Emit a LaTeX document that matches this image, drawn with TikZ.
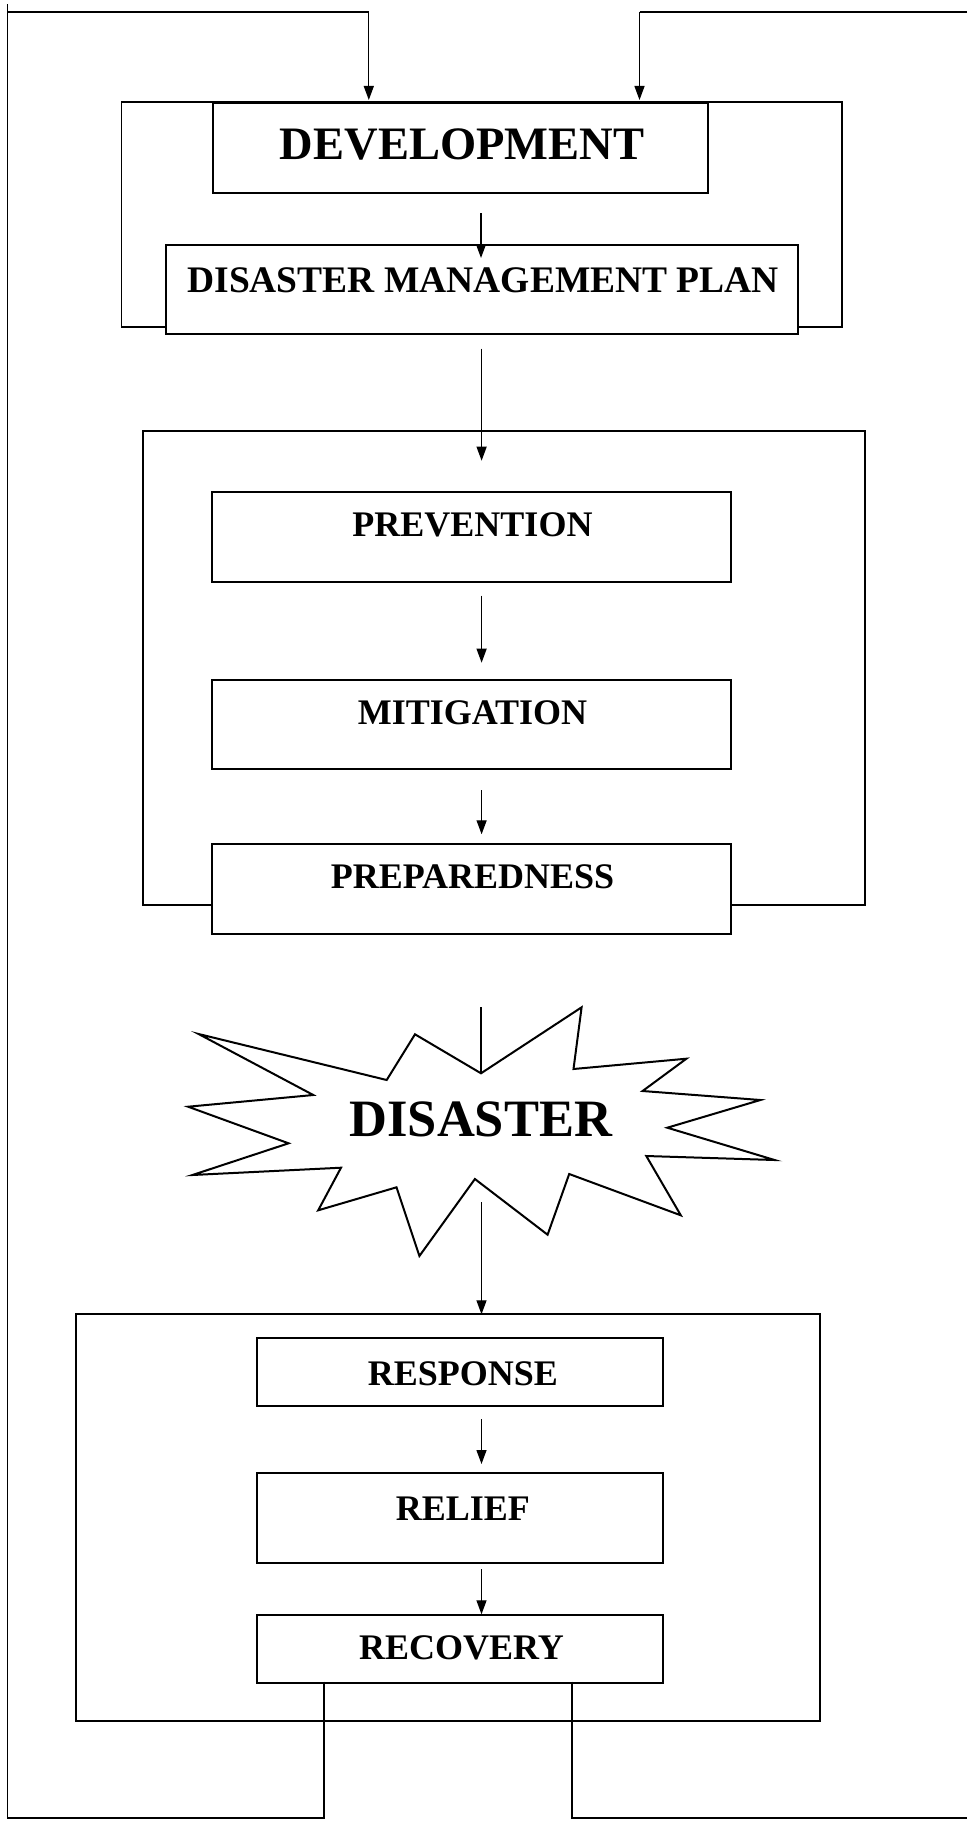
\documentclass[tikz,border=0pt]{standalone}
\usepackage{fontspec}
\setmainfont{Liberation Serif}
\usetikzlibrary{arrows.meta}
\begin{document}
\begin{tikzpicture}[x=1pt,y=-1pt,
  frame/.style={draw, line width=1.9pt},
  boxnode/.style={draw, line width=2pt, anchor=north west, inner sep=0pt, fill=white},
  lbl/.style={inner sep=0pt, font=\bfseries\fontsize{36}{40}\selectfont},
  arr/.style={draw, line width=1.3pt, -{Triangle[length=14pt,width=10pt]}},
  conn/.style={draw, line width=1.3pt},
  loopline/.style={draw, line width=1.9pt},
]
\useasboundingbox (0,0) rectangle (967,1822);

% group frames
\draw[frame] (165.3,327.3) -- (121.5,327.3) -- (121.5,101.7) -- (842.4,101.7) -- (842.4,327.3) -- (797.4,327.3);
\draw[frame] (211.2,905) -- (143.4,905) -- (143.4,431) -- (865.3,431) -- (865.3,905) -- (730.1,905);
\draw[frame] (75.6,1314.3) rectangle (820.3,1720.7);

% boxes
\node[boxnode, minimum width=495.9pt, minimum height=90pt] (dev) at (211.5,101.7) {};
\node[boxnode, minimum width=632.1pt, minimum height=89.3pt] (dmp) at (165.3,244) {};
\node[boxnode, minimum width=518.9pt, minimum height=89.7pt] (prev) at (211.2,491) {};
\node[boxnode, minimum width=518.9pt, minimum height=89.3pt] (miti) at (211.2,679) {};
\node[boxnode, minimum width=518.9pt, minimum height=90.3pt] (prep) at (211.2,843) {};
\node[boxnode, minimum width=405.9pt, minimum height=68pt] (resp) at (256,1337) {};
\node[boxnode, minimum width=405.9pt, minimum height=90pt] (reli) at (256,1471.7) {};
\node[boxnode, minimum width=405.7pt, minimum height=67.4pt] (reco) at (256,1614.3) {};

% labels
\node[inner sep=0pt, font=\bfseries\fontsize{46.5}{50}\selectfont] (devt) at (462,144.7) {DEVELOPMENT};
\node[inner sep=0pt, font=\bfseries\fontsize{37.5}{42}\selectfont] (dmpt) at (483.2,280) {DISASTER MANAGEMENT PLAN};
\node[lbl] (prevt) at (472.5,525.3) {PREVENTION};
\node[lbl] (mitit) at (472.5,712.5) {MITIGATION};
\node[lbl] (prept) at (472.5,877.2) {PREPAREDNESS};
\node[lbl] (respt) at (462.8,1373.7) {RESPONSE};
\node[lbl] (relit) at (462.8,1508.5) {RELIEF};
\node[lbl] (recot) at (461.6,1648.3) {RECOVERY};

% disaster burst
\draw[line width=2pt, fill=white, line join=miter]
  (481.0,1073.3) -- (581.6,1007.3) -- (573.5,1069) -- (686.4,1058.7) -- (642.6,1091)
  -- (760.4,1100) -- (667.3,1127.7) -- (774.6,1160) -- (646.3,1156) -- (680.8,1215.3)
  -- (569.2,1174) -- (547.6,1234.7) -- (474.9,1179) -- (419.4,1256) -- (396.5,1187.3)
  -- (318.2,1210.3) -- (341.0,1167.7) -- (192.4,1175) -- (288.6,1143.3) -- (188.1,1106.7)
  -- (313.3,1095) -- (198.6,1034) -- (386.7,1080) -- (415.0,1034.3) -- cycle;
\node[inner sep=0pt, font=\bfseries\fontsize{52.5}{58}\selectfont] (dis) at (480.8,1119.5) {DISASTER};

% connector end points
\coordinate (tl0) at (7.5,11.7);
\coordinate (tl1) at (368.8,11.7);
\coordinate (tl2) at (368.8,100);
\coordinate (tr0) at (967,11.7);
\coordinate (tr1) at (639.5,11.7);
\coordinate (tr2) at (639.5,100);
\coordinate (a1s) at (481,213);
\coordinate (a1e) at (481,258);
\coordinate (a2s) at (481.6,348.5);
\coordinate (a2e) at (481.6,460.7);
\coordinate (a3s) at (481.6,595.7);
\coordinate (a3e) at (481.6,662.7);
\coordinate (a4s) at (481.6,790);
\coordinate (a4e) at (481.6,834.3);
\coordinate (a5s) at (481,1007);
\coordinate (a5e) at (481,1073.3);
\coordinate (a6s) at (481.5,1202);
\coordinate (a6e) at (481.5,1314.3);
\coordinate (a7s) at (481.5,1419);
\coordinate (a7e) at (481.5,1464);
\coordinate (a8s) at (481.5,1569.3);
\coordinate (a8e) at (481.5,1614.3);
\coordinate (bl0) at (323.8,1681.7);
\coordinate (bl1) at (323.8,1817.7);
\coordinate (bl2) at (7.5,1817.7);
\coordinate (br0) at (571.7,1681.7);
\coordinate (br1) at (571.7,1817.7);
\coordinate (br2) at (967,1817.7);
\coordinate (tlx) at (7.5,4);

% connectors
\draw[loopline] (bl0) -- (bl1) -- (bl2) -- (tlx);
\draw[loopline] (br0) -- (br1) -- (br2);
\draw[loopline] (tl0) -- (tl1);
\draw[arr] (tl1) -- (tl2);
\draw[loopline] (tr0) -- (tr1);
\draw[arr] (tr1) -- (tr2);
\draw[arr] (a1s) -- (a1e);
\draw[arr] (a2s) -- (a2e);
\draw[arr] (a3s) -- (a3e);
\draw[arr] (a4s) -- (a4e);
\draw[conn] (a5s) -- (a5e);
\draw[arr] (a6s) -- (a6e);
\draw[arr] (a7s) -- (a7e);
\draw[arr] (a8s) -- (a8e);
\end{tikzpicture}
\end{document}
